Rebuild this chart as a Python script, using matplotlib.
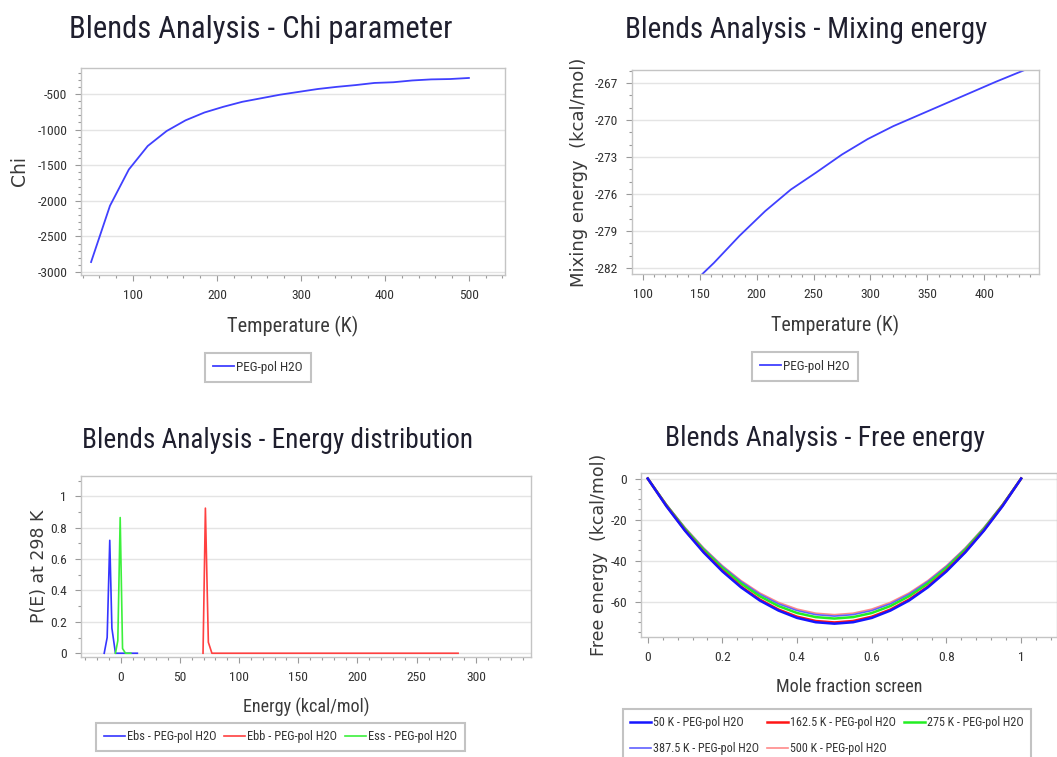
import matplotlib
matplotlib.use("Agg")
import matplotlib.pyplot as plt
from matplotlib.ticker import MultipleLocator
from matplotlib import font_manager as fm

# ---------------- data ----------------
temps = [50, 72.5, 95, 117.5, 140, 162.5, 185, 207.5, 230, 252.5, 275,
         297.5, 320, 342.5, 365, 387.5, 410, 432.5, 455, 477.5, 500]
chi = [-2860, -2070, -1560, -1230, -1020, -870, -760, -680, -610, -560, -510,
       -470, -430, -400, -375, -345, -335, -310, -295, -290, -275]

mix_temps = [140, 162.5, 185, 207.5, 230, 252.5, 275, 297.5, 320, 342.5,
             365, 387.5, 410, 432.5, 455]
mix_energy = [-283.6, -281.6, -279.4, -277.4, -275.65, -274.25, -272.8,
              -271.55, -270.5, -269.6, -268.7, -267.8, -266.9, -266.05, -265.2]

ebs_x = [-14, -11.5, -9.3, -7.5, -4.5, 14]
ebs_y = [0, 0.1, 0.72, 0.16, 0, 0]
ebb_x = [69.5, 71.5, 74, 77, 285]
ebb_y = [0, 0.925, 0.07, 0, 0]
ess_x = [-4.5, -2.5, -0.5, 1.5, 4, 8.5]
ess_y = [0, 0.08, 0.865, 0.03, 0, 0]

mole_frac = [0, 0.05, 0.1, 0.15, 0.2, 0.25, 0.3, 0.35, 0.4, 0.45, 0.5,
             0.55, 0.6, 0.65, 0.7, 0.75, 0.8, 0.85, 0.9, 0.95, 1.0]
fe_50 = [0, -13.5, -25.5, -36.1, -45.3, -53.1, -59.5, -64.4, -68.0, -70.1, -70.8,
         -70.1, -68.0, -64.4, -59.5, -53.1, -45.3, -36.1, -25.5, -13.5, 0]
fe_162 = [0, -13.3, -25.3, -35.8, -44.9, -52.7, -59.0, -63.9, -67.4, -69.5, -70.2,
          -69.5, -67.4, -63.9, -59.0, -52.7, -44.9, -35.8, -25.3, -13.3, 0]
fe_275 = [0, -13.0, -24.6, -34.8, -43.7, -51.2, -57.4, -62.2, -65.6, -67.6, -68.3,
          -67.6, -65.6, -62.2, -57.4, -51.2, -43.7, -34.8, -24.6, -13.0, 0]
fe_387 = [0, -12.7, -24.2, -34.2, -42.9, -50.3, -56.4, -61.1, -64.4, -66.4, -67.1,
          -66.4, -64.4, -61.1, -56.4, -50.3, -42.9, -34.2, -24.2, -12.7, 0]
fe_500 = [0, -12.6, -23.9, -33.9, -42.5, -49.8, -55.8, -60.4, -63.7, -65.7, -66.4,
          -65.7, -63.7, -60.4, -55.8, -49.8, -42.5, -33.9, -23.9, -12.6, 0]
fe_labels = ['50 K - PEG-pol H2O', '162.5 K - PEG-pol H2O', '275 K - PEG-pol H2O',
             '387.5 K - PEG-pol H2O', '500 K - PEG-pol H2O']

# ---------------- fonts ----------------
avail = {f.name for f in fm.fontManager.ttflist}
NARROW = 'DejaVu Sans'
for cand in ['Liberation Sans Narrow', 'Arial Narrow', 'DejaVu Sans Condensed',
             'Roboto Condensed', 'Open Sans Condensed', 'Noto Sans Condensed',
             'Liberation Sans', 'Roboto']:
    if cand in avail:
        NARROW = cand
        break
FAM = [NARROW, 'DejaVu Sans']
plt.rcParams['font.family'] = FAM
plt.rcParams['axes.unicode_minus'] = False

# ---------------- figure ----------------
W, H = 1057, 757
fig = plt.figure(figsize=(W / 100, H / 100), dpi=100)
R = fig.canvas.get_renderer()


def size_for(s, target, family=FAM, base=20.0):
    t = fig.text(0, 0, s, fontsize=base, family=family)
    w = t.get_window_extent(R).width
    t.remove()
    return base * target / w


TICK_FS = size_for('-1000', 30)

TITLE_C = '#1f1f2e'
LABEL_C = '#3a3a3a'
TICK_C = '#333333'


def ax_at(x0, y0, x1, y1):
    return fig.add_axes([x0 / W, 1 - y1 / H, (x1 - x0) / W, (y1 - y0) / H])


def style(ax, xmaj, xmin, ymaj, ymin):
    ax.xaxis.set_major_locator(MultipleLocator(xmaj))
    ax.xaxis.set_minor_locator(MultipleLocator(xmin))
    ax.yaxis.set_major_locator(MultipleLocator(ymaj))
    ax.yaxis.set_minor_locator(MultipleLocator(ymin))
    ax.grid(axis='y', which='major', color='#e4e4e4', lw=1.0)
    ax.set_axisbelow(True)
    for s in ax.spines.values():
        s.set_color('#c4c4c4')
        s.set_linewidth(1.0)
    ax.tick_params(which='major', length=4, width=0.8, color='#9a9a9a',
                   labelsize=TICK_FS, labelcolor=TICK_C, pad=6)
    ax.tick_params(which='minor', length=2, width=0.8, color='#9a9a9a')


def title(x, y, s, width):
    fig.text(x / W, 1 - y / H, s, ha='center', va='center',
             fontsize=size_for(s, width), color=TITLE_C)


def labels(ax, xl, xw, yl, yfs, yx, yy):
    ax.set_xlabel(xl, fontsize=size_for(xl, xw), color=LABEL_C, labelpad=10)
    ax.set_ylabel(yl, fontsize=yfs, color=LABEL_C, family='DejaVu Sans')
    ax.yaxis.set_label_coords(yx, yy)


def legend(handles, labs, cx, top, probe, probe_w, ncol=1, spacing_px=8,
           row_px=24):
    fs = size_for(probe, probe_w)
    em = fs * 100 / 72
    lg = fig.legend(handles, labs, loc='upper center',
                    bbox_to_anchor=(cx / W, 1 - top / H), ncol=ncol,
                    fontsize=fs, frameon=True, fancybox=False,
                    handlelength=21 / em, handletextpad=2 / em,
                    columnspacing=spacing_px / em,
                    borderpad=0.6, labelspacing=(row_px - em) / em,
                    borderaxespad=0)
    lg.get_frame().set_edgecolor('#b4b4b4')
    lg.get_frame().set_linewidth(1.5)
    for t in lg.get_texts():
        t.set_color(TICK_C)
    return lg


# ---- Panel 1: Chi parameter ----
ax1 = ax_at(81, 68, 505, 275)
l1, = ax1.plot(temps, chi, color='#4040ff', lw=1.3)
ax1.set_xlim(38, 543)
ax1.set_ylim(-3042, -135)
style(ax1, 100, 20, 500, 100)
labels(ax1, 'Temperature (K)', 131, 'Chi', 13.5, -0.123, 0.5)
title(261, 30, 'Blends Analysis - Chi parameter', 382)
legend([l1], ['PEG-pol H2O'], 258, 353, 'PEG-pol H2O', 67)

# ---- Panel 2: Mixing energy ----
ax2 = ax_at(632, 70, 1039, 274)
l2, = ax2.plot(mix_temps, mix_energy, color='#4040ff', lw=1.3)
ax2.set_xlim(90.6, 448)
ax2.set_ylim(-282.5, -265.94)
style(ax2, 50, 10, 3, 1)
labels(ax2, 'Temperature (K)', 128, 'Mixing energy  (kcal/mol)', 13, -0.108, 0.5)
title(806, 30, 'Blends Analysis - Mixing energy', 362)
legend([l2], ['PEG-pol H2O'], 805, 352, 'PEG-pol H2O', 67)

# ---- Panel 3: Energy distribution ----
ax3 = ax_at(81, 476, 531, 657)
h1, = ax3.plot(ebs_x, ebs_y, color='#3535ff', lw=1.2)
h2, = ax3.plot(ebb_x, ebb_y, color='#ff4040', lw=1.2)
h3, = ax3.plot(ess_x, ess_y, color='#3cf03c', lw=1.2)
ax3.set_xlim(-33.6, 346.6)
ax3.set_ylim(-0.024, 1.13)
style(ax3, 50, 10, 0.2, 0.1)
ax3.set_yticks([0, 0.2, 0.4, 0.6, 0.8, 1.0])
ax3.set_yticklabels(['0', '0.2', '0.4', '0.6', '0.8', '1'])
labels(ax3, 'Energy (kcal/mol)', 127, 'P(E) at 298 K', 12.5, -0.073, 0.5)
title(278, 441, 'Blends Analysis - Energy distribution', 389)
legend([h1, h2, h3],
       ['Ebs - PEG-pol H2O', 'Ebb - PEG-pol H2O', 'Ess - PEG-pol H2O'],
       280.5, 723, 'Ebs - PEG-pol H2O', 89, ncol=3)

# ---- Panel 4: Free energy ----
ax4 = ax_at(641, 473, 1057, 637)
c5, = ax4.plot(mole_frac, fe_500, color='#ff8a8a', lw=1.2)
c4, = ax4.plot(mole_frac, fe_387, color='#6060ff', lw=1.2)
c3, = ax4.plot(mole_frac, fe_275, color='#22ee22', lw=1.8)
c2, = ax4.plot(mole_frac, fe_162, color='#ff1515', lw=1.8)
c1, = ax4.plot(mole_frac, fe_50, color='#1515ff', lw=1.8)
ax4.set_xlim(-0.018, 1.096)
ax4.set_ylim(-77.3, 2.7)
style(ax4, 0.2, 0.04, 20, 5)
ax4.set_xticks([0, 0.2, 0.4, 0.6, 0.8, 1.0])
ax4.set_xticklabels(['0', '0.2', '0.4', '0.6', '0.8', '1'])
labels(ax4, 'Mole fraction screen', 146, 'Free energy  (kcal/mol)', 12.5, -0.079, 0.5)
title(825, 438, 'Blends Analysis - Free energy', 319)
legend([c1, c4, c2, c5, c3],
       [fe_labels[0], fe_labels[3], fe_labels[1], fe_labels[4], fe_labels[2]],
       827, 709, '162.5 K - PEG-pol H2O', 106, ncol=3, row_px=25)

fig.savefig('out.png', dpi=100, facecolor='white')
